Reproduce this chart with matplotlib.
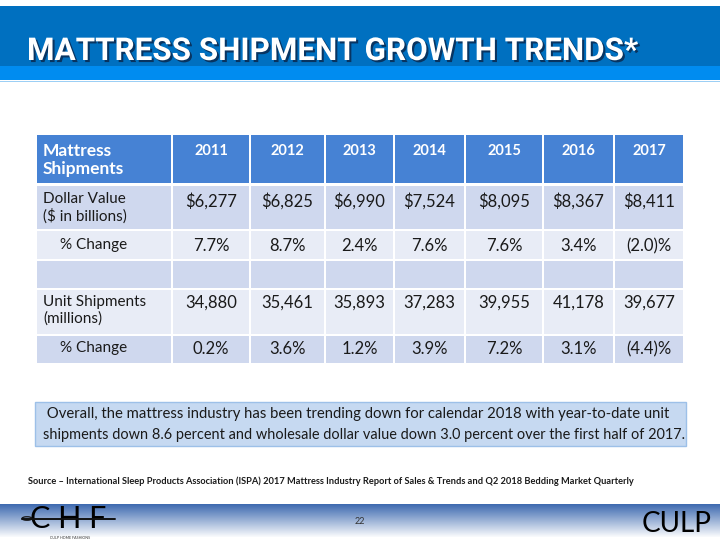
import matplotlib
matplotlib.use("Agg")
import matplotlib.pyplot as plt
import numpy as np
from matplotlib.patches import Rectangle, Ellipse
import matplotlib.patheffects as pe

# ---------------- data ----------------
title = "MATTRESS SHIPMENT GROWTH TRENDS*"
years = ["2011", "2012", "2013", "2014", "2015", "2016", "2017"]
dollar_value = [6277, 6825, 6990, 7524, 8095, 8367, 8411]
dollar_change = [7.7, 8.7, 2.4, 7.6, 7.6, 3.4, -2.0]
unit_shipments = [34880, 35461, 35893, 37283, 39955, 41178, 39677]
unit_change = [0.2, 3.6, 1.2, 3.9, 7.2, 3.1, -4.4]
row_labels = ["Dollar Value\n($ in billions)", "% Change", "", "Unit Shipments\n(millions)", "% Change"]
header_label = "Mattress\nShipments"
note_lines = [
    " Overall, the mattress industry has been trending down for calendar 2018 with year-to-date unit",
    "shipments down 8.6 percent and wholesale dollar value down 3.0 percent over the first half of 2017.",
]
source = ("Source \u2013 International Sleep Products Association (ISPA) 2017 Mattress Industry Report "
          "of Sales & Trends and Q2 2018 Bedding Market Quarterly")
page_no = "22"


def pct(v):
    return f"({abs(v):.1f})%" if v < 0 else f"{v:.1f}%"


rows = [
    [f"${v:,}" for v in dollar_value],
    [pct(v) for v in dollar_change],
    ["" for _ in years],
    [f"{v:,}" for v in unit_shipments],
    [pct(v) for v in unit_change],
]

# ---------------- layout ----------------
fig = plt.figure(figsize=(7.2, 5.4), dpi=100)
ax = fig.add_axes([0, 0, 1, 1])
ax.set_xlim(0, 720)
ax.set_ylim(540, 0)
ax.axis("off")
fig.canvas.draw()
renderer = fig.canvas.get_renderer()


def fit(x, y, s, width, size, **kw):
    t = ax.text(x, y, s, fontsize=size, **kw)
    w = t.get_window_extent(renderer).width
    t.set_fontsize(size * width / w)
    return t


BODY = ["Lato", "DejaVu Sans"]
INK = "#1a1a1a"

# header band
ax.add_patch(Rectangle((0, 6), 720, 60, color="#0070C0", lw=0))
ax.add_patch(Rectangle((0, 66), 720, 14, color="#008CF0", lw=0))
ax.add_patch(Rectangle((0, 80.5), 720, 1.2, color="#9CCFF5", lw=0))
fit(27, 60, title, 611, 24, color="white", va="baseline",
    family=["Roboto", "DejaVu Sans"], fontweight="bold",
    path_effects=[pe.withSimplePatchShadow(offset=(1.5, -1.5), shadow_rgbFace="#0A2A50", alpha=0.85)])

# table
col_edges = [36, 172, 250, 325, 394, 465, 543, 614, 684]
row_edges = [(186, 229), (231, 259), (261, 288), (290, 334), (336, 363)]
row_colors = ["#CFD8EE", "#E8ECF6", "#CFD8EE", "#E8ECF6", "#CFD8EE"]
text_y = [201, 246, None, 303, 349]
HEAD = "#4682D4"
for i in range(len(col_edges) - 1):
    x0, x1 = col_edges[i], col_edges[i + 1]
    ax.add_patch(Rectangle((x0 + 1, 135), x1 - x0 - 2, 48, color=HEAD, lw=0))
    for r, (y0, y1) in enumerate(row_edges):
        ax.add_patch(Rectangle((x0 + 1, y0), x1 - x0 - 2, y1 - y0, color=row_colors[r], lw=0))

ax.text(43, 160, header_label, color="white", fontweight="bold", fontsize=12.5,
        family=BODY, va="center", ha="left", linespacing=1.1)
for j, yr in enumerate(years):
    cx = (col_edges[j + 1] + col_edges[j + 2]) / 2
    ax.text(cx, 151, yr, color="white", fontweight="bold", fontsize=10.5,
            family=BODY, va="center", ha="center")

for r, lab in enumerate(row_labels):
    if not lab:
        continue
    if lab.startswith("%"):
        ax.text(60, text_y[r] - 1, lab, fontsize=11, family=BODY, color=INK, va="center")
    else:
        ax.text(43, text_y[r] + 7, lab, fontsize=11, family=BODY, color=INK,
                va="center", linespacing=1.2)
    for j, s in enumerate(rows[r]):
        cx = (col_edges[j + 1] + col_edges[j + 2]) / 2
        ax.text(cx, text_y[r], s, fontsize=12, family=BODY, color=INK,
                va="center", ha="center")

# note box
ax.add_patch(Rectangle((35, 402), 651, 44, facecolor="#C6D9F1", edgecolor="#9DC0E8", lw=1))
fit(43, 414, note_lines[0], 630, 11.5, family=BODY, color=INK, va="center")
fit(43, 435, note_lines[1], 643, 11.5, family=BODY, color=INK, va="center")

# source
fit(28, 481, source, 614, 7, family=BODY, fontweight="bold", color=INK, va="center")

# footer gradient
grad = np.linspace(0, 1, 64).reshape(-1, 1)
top = np.array([62, 106, 176]) / 255
bot = np.array([1, 1, 1])
img = top[None, None, :] * (1 - grad[..., None]) + bot[None, None, :] * grad[..., None]
img = np.repeat(img, 2, axis=1)
ax.imshow(img, extent=(0, 720, 538, 504), aspect="auto", zorder=1)
ax.add_patch(Rectangle((0, 537), 720, 3, color="white", lw=0, zorder=1))

# CHF logo
ax.text(68, 528, "C H F", fontsize=22, family=BODY, fontweight="normal",
        color="black", ha="center", va="baseline", zorder=3)
ax.plot([22, 115], [518.5, 518.5], color="#111111", lw=1.4, zorder=4, solid_capstyle="round")
ax.add_patch(Ellipse((27, 518.5), 10, 3.5, facecolor="none", edgecolor="#111111", lw=0.9, zorder=4))
ax.text(70, 537.8, "CULP HOME FASHIONS", fontsize=2.6, family=BODY, color="#333333",
        ha="center", va="center", zorder=3)

ax.text(360, 522, page_no, fontsize=6.5, family=BODY, color="#333333",
        ha="center", va="center", zorder=3)
fit(642, 532, "CULP", 70, 22, family=BODY, fontweight="normal",
    color="black", va="baseline", zorder=3)

fig.savefig("out.png", dpi=100)
